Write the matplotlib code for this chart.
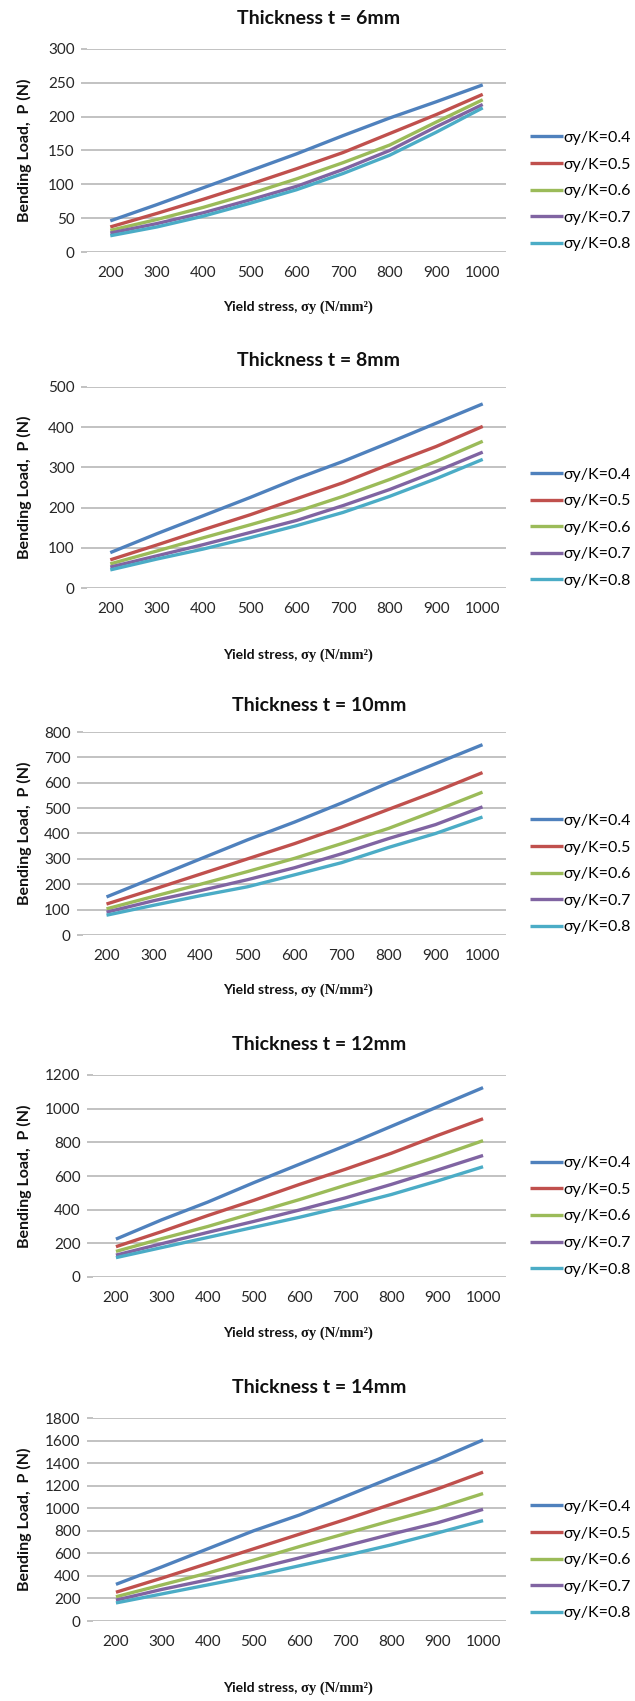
import matplotlib
matplotlib.use("Agg")
import matplotlib.pyplot as plt
from matplotlib.offsetbox import TextArea, HPacker, AnnotationBbox

W, H = 635, 1701

yield_stress = [200, 300, 400, 500, 600, 700, 800, 900, 1000]
ratio_labels = ["σy/K=0.4", "σy/K=0.5", "σy/K=0.6", "σy/K=0.7", "σy/K=0.8"]
colors = ["#4F81BD", "#C0504D", "#9BBB59", "#8064A2", "#4BACC6"]

titles = ["Thickness t = 6mm", "Thickness t = 8mm", "Thickness t = 10mm",
          "Thickness t = 12mm", "Thickness t = 14mm"]

load_t6 = [
    [46, 70, 95, 120, 145, 172, 198, 222, 247],
    [37, 57, 78, 100, 123, 147, 175, 203, 233],
    [32, 48, 66, 86, 108, 132, 158, 192, 225],
    [28, 42, 58, 77, 97, 122, 150, 185, 218],
    [24, 37, 53, 72, 92, 116, 143, 177, 213],
]
load_t8 = [
    [88, 135, 180, 225, 272, 315, 362, 410, 458],
    [70, 107, 145, 182, 222, 262, 308, 352, 402],
    [60, 92, 125, 157, 190, 228, 270, 315, 365],
    [52, 80, 108, 138, 168, 205, 245, 290, 338],
    [45, 72, 97, 125, 155, 188, 228, 272, 320],
]
load_t10 = [
    [150, 225, 300, 375, 445, 520, 600, 675, 750],
    [122, 180, 240, 300, 360, 425, 495, 565, 640],
    [103, 152, 200, 250, 302, 360, 420, 490, 563],
    [90, 135, 175, 218, 265, 320, 380, 435, 505],
    [78, 117, 155, 190, 237, 285, 345, 400, 465],
]
load_t12 = [
    [225, 340, 445, 560, 670, 780, 895, 1010, 1125],
    [180, 270, 365, 455, 550, 640, 735, 840, 940],
    [152, 228, 300, 380, 460, 545, 625, 715, 810],
    [130, 198, 265, 330, 398, 470, 550, 635, 722],
    [115, 175, 235, 295, 355, 420, 490, 570, 655],
]
load_t14 = [
    [325, 480, 640, 800, 940, 1105, 1270, 1430, 1605],
    [255, 380, 510, 640, 770, 900, 1035, 1170, 1320],
    [215, 320, 425, 540, 660, 775, 890, 1000, 1130],
    [185, 280, 365, 460, 560, 665, 770, 870, 990],
    [160, 240, 320, 400, 490, 580, 675, 780, 890],
]
loads = [load_t6, load_t8, load_t10, load_t12, load_t14]

yticks_list = [
    list(range(0, 301, 50)),
    list(range(0, 501, 100)),
    list(range(0, 801, 100)),
    list(range(0, 1201, 200)),
    list(range(0, 1801, 200)),
]

# layout in pixels: left, right, top, bottom, title_y, xlabel_y
layout = [
    (87, 506, 49, 252, 18, 307),
    (87, 506, 387, 588, 361, 655),
    (83, 506, 732, 935, 705, 990),
    (93, 506, 1075, 1277, 1045, 1333),
    (93, 506, 1418, 1621, 1387, 1688),
]

SANS = ["Lato", "DejaVu Sans"]
SERIF = ["Liberation Serif", "DejaVu Serif"]
plt.rcParams["font.family"] = SANS

fig = plt.figure(figsize=(W / 100, H / 100), dpi=100)
fig.patch.set_facecolor("white")

for i in range(5):
    l, r, t, b, ty, xly = layout[i]
    ax = fig.add_axes([l / W, 1 - b / H, (r - l) / W, (b - t) / H])
    for s, lab, c in zip(loads[i], ratio_labels, colors):
        ax.plot(yield_stress, s, color=c, lw=2.4, label=lab, solid_capstyle="butt")
    yt = yticks_list[i]
    ax.set_xlim(150, 1050)
    ax.set_ylim(yt[0], yt[-1])
    ax.set_yticks(yt)
    ax.set_xticks(yield_stress)
    ax.set_xticklabels([str(v) for v in yield_stress])
    ax.grid(axis="y", color="#BDBDBD", lw=1.3)
    ax.set_axisbelow(True)
    for sp in ax.spines.values():
        sp.set_visible(False)
    ax.tick_params(axis="y", length=4, width=1.3, color="#BDBDBD", pad=5,
                   labelsize=11, labelcolor="#262626")
    ax.tick_params(axis="x", length=0, pad=10, labelsize=11, labelcolor="#262626")

    ax.legend(loc="center left", bbox_to_anchor=((530 - l) / (r - l), 0.30),
              frameon=False, fontsize=11.5, handlelength=2.05, handletextpad=0.05,
              labelspacing=0.78, borderpad=0, borderaxespad=0)

    fig.text(319 / W, 1 - ty / H, titles[i], ha="center", va="center",
             fontsize=14, fontweight="bold", color="#111111")
    fig.text(24 / W, 1 - ((t + b) / 2) / H, "Bending Load,  P (N)", rotation=90,
             ha="center", va="center", fontsize=11.5, fontweight="bold", color="#111111")

    ta1 = TextArea("Yield stress, ", textprops=dict(fontsize=10, fontweight="bold",
                                                   fontfamily=SANS, color="#111111"))
    ta2 = TextArea("σy (N/mm²)", textprops=dict(fontsize=10.5, fontweight="bold",
                                               fontfamily=SERIF, color="#111111"))
    pack = HPacker(children=[ta1, ta2], align="baseline", pad=0, sep=0)
    ab = AnnotationBbox(pack, (298, H - xly), xycoords="figure pixels",
                        box_alignment=(0.5, 0.5), frameon=False)
    fig.add_artist(ab)

fig.savefig("out.png", dpi=100, facecolor="white")
